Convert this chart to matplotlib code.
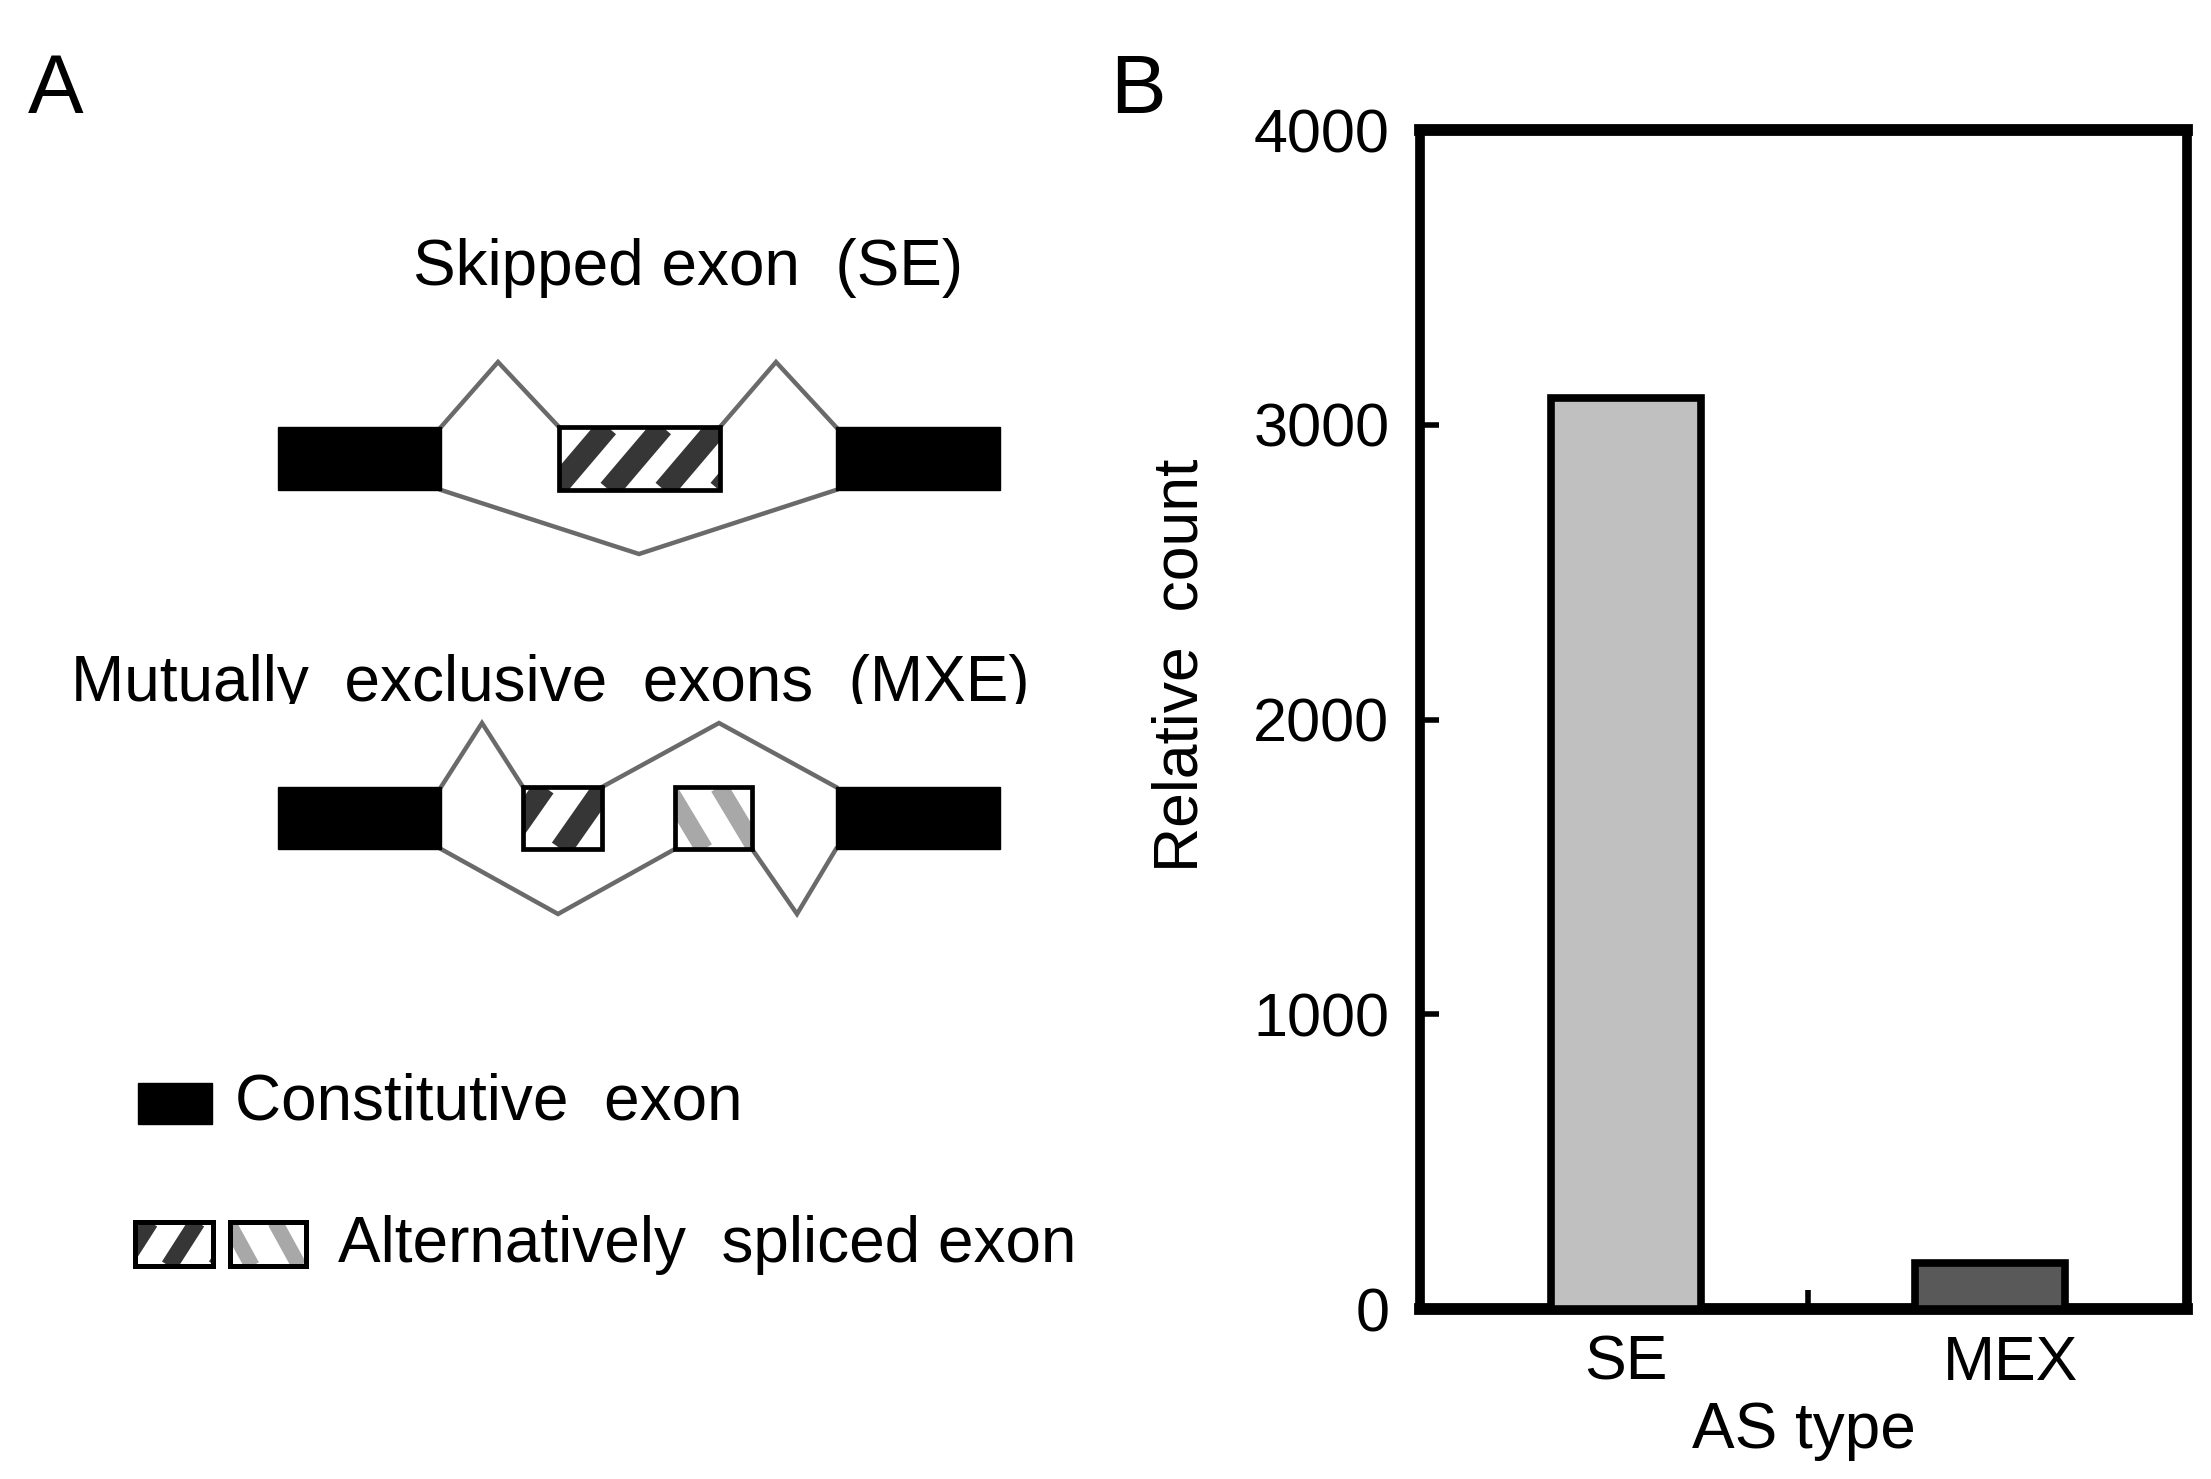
import matplotlib
matplotlib.use('Agg')
import matplotlib.pyplot as plt
from matplotlib.patches import Rectangle
from matplotlib.transforms import ScaledTranslation
import numpy as np

plt.rcParams['font.family'] = ['Liberation Sans', 'DejaVu Sans']

W, H = 2211, 1479

# ---- panel B data ----
as_types = ['SE', 'MEX']
counts = [3090, 155]
bar_colors = ['#c0c0c0', '#595959']
y_ticks = [0, 1000, 2000, 3000, 4000]

# ---- panel A schematic (figure pixel coords, y pointing down) ----
const_exons = [(278, 441), (836, 1000)]
se_row = (427, 490)
se_alt = (559, 720)
se_lines = [[(441, 427), (498, 362), (559, 427)],
            [(720, 427), (776, 362), (836, 427)],
            [(441, 490), (639, 554), (836, 490)]]
mxe_row = (787, 849)
mxe_alt = [(523, 602), (675, 752)]
mxe_lines = [[(441, 787), (482, 723), (523, 787)],
             [(602, 787), (719, 723), (836, 787)],
             [(441, 849), (558, 914), (675, 849)],
             [(752, 849), (797, 914), (836, 849)]]

DARK = '#363636'
LIGHT = '#a8a8a8'
INTRON = '#6a6a6a'


def striped_box(ax, x0, x1, y0, y1, color, flip=False, phase=10, step=55,
                slope=0.8, lw=15, edge=3.4):
    box = Rectangle((x0, y0), x1 - x0, y1 - y0, facecolor='white', edgecolor='none', zorder=2)
    ax.add_patch(box)
    dx = (y1 - y0) * slope
    for c in np.arange(x0 + phase - 4 * step, x1 + 2 * step, step):
        if flip:
            xs, ys = [c, c + dx], [y0, y1]
        else:
            xs, ys = [c, c + dx], [y1, y0]
        ln, = ax.plot(xs, ys, color=color, lw=lw, solid_capstyle='butt', zorder=3)
        ln.set_clip_path(box)
    ax.add_patch(Rectangle((x0, y0), x1 - x0, y1 - y0, facecolor='none',
                           edgecolor='black', lw=edge, zorder=4))


fig = plt.figure(figsize=(W / 100, H / 100), dpi=100)

# panel A drawn on a full-figure canvas
axa = fig.add_axes([0, 0, 1, 1])
axa.set_xlim(0, W)
axa.set_ylim(H, 0)
axa.axis('off')

for row in (se_row, mxe_row):
    for x0, x1 in const_exons:
        axa.add_patch(Rectangle((x0, row[0]), x1 - x0, row[1] - row[0],
                                facecolor='black', edgecolor='black', lw=1, zorder=2))

for pts in se_lines + mxe_lines:
    xs, ys = zip(*pts)
    axa.plot(xs, ys, color=INTRON, lw=3.2, zorder=1, solid_joinstyle='miter')

striped_box(axa, se_alt[0], se_alt[1], se_row[0], se_row[1], DARK, phase=-5, slope=0.85, lw=16)
striped_box(axa, mxe_alt[0][0], mxe_alt[0][1], mxe_row[0], mxe_row[1], DARK,
            phase=38, step=60, slope=0.7, lw=16)
striped_box(axa, mxe_alt[1][0], mxe_alt[1][1], mxe_row[0], mxe_row[1], LIGHT,
            flip=True, phase=44, step=52, slope=0.6, lw=13)

fs = 46
axa.text(688, 268, 'Skipped exon  (SE)', fontsize=fs, ha='center', va='center')
axa.text(550, 701, 'Mutually  exclusive  exons  (MXE)', fontsize=fs, ha='center', va='baseline')
# the reference crops the descenders of this title
axa.add_patch(Rectangle((60, 704), 1000, 14, facecolor='white', edgecolor='none', zorder=5))

# legend
axa.add_patch(Rectangle((138, 1083), 74, 41, facecolor='black', edgecolor='black', lw=1))
axa.text(235, 1103, 'Constitutive  exon', fontsize=fs, ha='left', va='center')
striped_box(axa, 135, 213, 1222, 1266, DARK, phase=34, step=47, slope=0.64, lw=12, edge=3.6)
striped_box(axa, 230, 306, 1222, 1266, LIGHT, flip=True, phase=45, step=47, slope=0.55,
            lw=11, edge=3.6)
axa.text(338, 1245, 'Alternatively  spliced exon', fontsize=fs, ha='left', va='center')

axa.text(28, 113, 'A', fontsize=60, ha='left', va='baseline')
axa.text(1110, 113, 'B', fontsize=60, ha='left', va='baseline')

# panel B bar chart
left, right, top, bottom = 1420, 2187, 130, 1309
ax = fig.add_axes([left / W, 1 - bottom / H, (right - left) / W, (bottom - top) / H])
x = np.arange(len(as_types))
ax.bar(x, counts, width=0.41, color=bar_colors, edgecolor='black', linewidth=5.5, zorder=3)
ax.set_xlim(-0.566, 1.541)
ax.set_ylim(0, 4000)
ax.set_yticks(y_ticks)
ax.set_xticks(x, as_types)
ax.set_xticks([0.5], minor=True)
ax.tick_params(axis='y', direction='in', length=14, width=4, pad=22, labelsize=44)
ax.tick_params(axis='x', which='major', length=0, pad=18, labelsize=45)
ax.tick_params(axis='x', which='minor', direction='in', length=14, width=4)
for side, lw in (('left', 7), ('right', 7), ('top', 8.5), ('bottom', 8.5)):
    ax.spines[side].set_linewidth(lw)
# the MEX label sits a little right of its bar in the reference
lbl = ax.get_xticklabels()[1]
lbl.set_transform(lbl.get_transform() + ScaledTranslation(0.2, 0, fig.dpi_scale_trans))
ax.set_xlabel('AS type', fontsize=46, labelpad=6)
fig.text(1181 / W, 1 - 665 / H, 'Relative  count', fontsize=45, rotation=90,
         ha='center', va='center')

fig.savefig('out.png', dpi=100)
